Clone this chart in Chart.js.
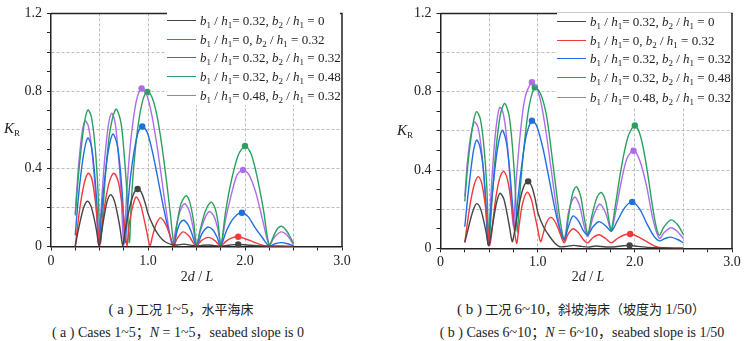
<!DOCTYPE html>
<html>
<head>
<meta charset="utf-8">
<script src="https://cdn.jsdelivr.net/npm/chart.js@4/dist/chart.umd.min.js"></script>
<style>
  html, body { margin: 0; padding: 0; background: #fff; }
  body { width: 747px; height: 341px; position: relative; overflow: hidden;
         font-family: "Liberation Serif", "Times New Roman", "Noto Sans CJK SC", serif; color: #222; }
  canvas { position: absolute; top: 0; }
  .legend { position: absolute; background: #fff; font-size: 13px; }
  .row { position: absolute; left: 0; height: 19px; line-height: 19px; white-space: nowrap; }
  .swatch { position: absolute; top: 9px; left: 0; width: 29px; border-top: 1.5px solid; }
  .lbl { position: absolute; left: 33px; top: 0; }
  sub { font-size: 9px; vertical-align: -3px; line-height: 0; }
  .txt { position: absolute; white-space: nowrap; transform: translate(-50%, -50%); }
  .lat { font-size: 15px; }
</style>
</head>
<body>
<canvas id="chartA" width="373" height="290" style="left:0"></canvas>
<canvas id="chartB" width="374" height="290" style="left:373px"></canvas>

<div class="txt" style="left:12px;top:128px;font-size:15px"><i>K</i><sub>R</sub></div>
<div class="txt" style="left:405px;top:130px;font-size:15px"><i>K</i><sub>R</sub></div>
<div class="txt" style="left:197px;top:277px;font-size:14px">2<i>d</i> / <i>L</i></div>
<div class="txt" style="left:588px;top:277px;font-size:14px">2<i>d</i> / <i>L</i></div>
<div class="txt" style="left:181px;top:308px;font-size:13px"><span class="lat">( a )</span> 工况 <span class="lat">1~5</span>，水平海床</div>
<div class="txt" style="left:178px;top:331px;font-size:14px">( a ) Cases 1~5；<i>N</i> = 1~5，seabed slope is 0</div>
<div class="txt" style="left:581px;top:308px;font-size:13px"><span class="lat">( b )</span> 工况 <span class="lat">6~10</span>，斜坡海床（坡度为 <span class="lat">1/50</span>）</div>
<div class="txt" style="left:582px;top:331px;font-size:14px">( b ) Cases 6~10；<i>N</i> = 6~10，seabed slope is 1/50</div>

<div class="legend" id="legendA" style="left:167px;top:12px;width:173px;height:93px"></div>
<div class="legend" id="legendB" style="left:557px;top:13px;width:174px;height:94px"></div>

<script>
// Series labels (b1/h1, b2/h1 combinations) and line colours
const seriesLabels = [
  'b1 / h1= 0.32, b2 / h1 = 0',
  'b1 / h1= 0, b2 / h1 = 0.32',
  'b1 / h1= 0.32, b2 / h1 = 0.32',
  'b1 / h1= 0.32, b2 / h1 = 0.48',
  'b1 / h1= 0.48, b2 / h1 = 0.32'
];
const seriesColors = ['#444444', '#f03a3a', '#1f6fe0', '#2aa05e', '#ad6cec'];

// Axis tick labels
const xTickLabels = ['0', '1.0', '2.0', '3.0'];
const yTickLabels = ['0', '0.4', '0.8', '1.2'];

// ---- (a) cases 1-5, flat seabed: [2d/L, KR]
const flatB032B20 = [[0.25,0.0],[0.28,0.08],[0.31,0.15],[0.34,0.205],[0.375,0.233],[0.41,0.21],[0.44,0.155],[0.47,0.08],[0.495,0.005],[0.52,0.07],[0.55,0.16],[0.58,0.235],[0.613,0.266],[0.65,0.24],[0.68,0.18],[0.71,0.1],[0.74,0.005],[0.76,0.07],[0.79,0.15],[0.82,0.22],[0.855,0.275],[0.893,0.296],[0.93,0.28],[0.97,0.225],[1.0,0.17],[1.05,0.11],[1.1,0.065],[1.15,0.035],[1.2,0.018],[1.25,0.009],[1.3,0.008],[1.37,0.012],[1.44,0.007],[1.5,0.002],[1.56,0.006],[1.63,0.008],[1.7,0.004],[1.76,0.002],[1.85,0.008],[1.93,0.011],[2.02,0.008],[2.12,0.004],[2.25,0.001],[2.37,0.002],[2.5,0.0]];
const flatB10B232 = [[0.25,0.0],[0.28,0.13],[0.31,0.24],[0.35,0.34],[0.387,0.377],[0.42,0.35],[0.45,0.26],[0.475,0.15],[0.5,0.005],[0.53,0.12],[0.56,0.23],[0.6,0.33],[0.647,0.377],[0.69,0.34],[0.72,0.26],[0.75,0.15],[0.783,0.005],[0.8,0.09],[0.83,0.18],[0.876,0.255],[0.92,0.22],[0.96,0.14],[0.99,0.07],[1.02,0.005],[1.05,0.06],[1.08,0.11],[1.126,0.147],[1.17,0.125],[1.21,0.08],[1.24,0.035],[1.263,0.003],[1.3,0.04],[1.36,0.075],[1.42,0.055],[1.496,0.002],[1.55,0.03],[1.625,0.047],[1.69,0.03],[1.75,0.002],[1.8,0.025],[1.86,0.043],[1.93,0.05],[2.0,0.04],[2.08,0.025],[2.16,0.01],[2.25,0.001],[2.35,0.002],[2.5,0.0]];
const flatB032B232 = [[0.25,0.058],[0.28,0.24],[0.31,0.38],[0.345,0.5],[0.38,0.559],[0.415,0.52],[0.445,0.4],[0.47,0.24],[0.495,0.01],[0.52,0.17],[0.55,0.33],[0.59,0.49],[0.637,0.579],[0.68,0.53],[0.71,0.42],[0.74,0.23],[0.763,0.02],[0.79,0.2],[0.82,0.36],[0.86,0.5],[0.9,0.59],[0.941,0.618],[0.99,0.59],[1.04,0.5],[1.09,0.38],[1.14,0.25],[1.19,0.13],[1.23,0.05],[1.263,0.003],[1.3,0.08],[1.33,0.12],[1.365,0.135],[1.41,0.115],[1.45,0.07],[1.5,0.002],[1.55,0.06],[1.59,0.09],[1.625,0.1],[1.67,0.085],[1.71,0.05],[1.75,0.002],[1.8,0.07],[1.86,0.13],[1.92,0.165],[1.968,0.174],[2.03,0.155],[2.1,0.1],[2.18,0.045],[2.25,0.002],[2.31,0.014],[2.37,0.02],[2.44,0.014],[2.5,0.004]];
const flatB032B248 = [[0.25,0.16],[0.28,0.35],[0.31,0.5],[0.345,0.64],[0.38,0.703],[0.415,0.67],[0.45,0.54],[0.48,0.33],[0.51,0.02],[0.54,0.22],[0.57,0.42],[0.61,0.6],[0.671,0.707],[0.72,0.64],[0.75,0.5],[0.78,0.3],[0.807,0.02],[0.83,0.25],[0.86,0.45],[0.9,0.63],[0.95,0.76],[0.993,0.796],[1.04,0.77],[1.09,0.68],[1.14,0.53],[1.19,0.34],[1.23,0.17],[1.27,0.008],[1.3,0.12],[1.34,0.22],[1.393,0.262],[1.43,0.23],[1.47,0.13],[1.5,0.008],[1.54,0.09],[1.59,0.18],[1.65,0.228],[1.69,0.2],[1.72,0.13],[1.752,0.008],[1.8,0.18],[1.86,0.34],[1.93,0.47],[2.0,0.517],[2.06,0.48],[2.12,0.37],[2.19,0.19],[2.25,0.008],[2.3,0.06],[2.34,0.095],[2.38,0.104],[2.43,0.08],[2.47,0.045],[2.5,0.016]];
const flatB048B232 = [[0.25,0.17],[0.275,0.36],[0.3,0.5],[0.325,0.6],[0.352,0.647],[0.385,0.62],[0.42,0.5],[0.455,0.3],[0.49,0.01],[0.52,0.22],[0.55,0.43],[0.59,0.62],[0.626,0.686],[0.66,0.64],[0.69,0.5],[0.72,0.3],[0.75,0.01],[0.78,0.27],[0.81,0.48],[0.85,0.66],[0.89,0.77],[0.934,0.813],[0.98,0.79],[1.03,0.7],[1.08,0.56],[1.13,0.39],[1.18,0.21],[1.25,0.008],[1.29,0.1],[1.33,0.18],[1.376,0.22],[1.42,0.19],[1.46,0.11],[1.5,0.008],[1.54,0.08],[1.59,0.15],[1.632,0.18],[1.68,0.155],[1.72,0.09],[1.752,0.008],[1.8,0.14],[1.86,0.27],[1.92,0.37],[1.98,0.394],[2.04,0.37],[2.11,0.28],[2.18,0.14],[2.25,0.008],[2.3,0.045],[2.37,0.075],[2.43,0.06],[2.5,0.01]];

// Marked resonance peaks, (a)
const flatPeaksB032B20 = [[0.893,0.296],[1.93,0.011]];
const flatPeaksB10B232 = [[1.93,0.05]];
const flatPeaksB032B232 = [[0.941,0.618],[1.968,0.174]];
const flatPeaksB032B248 = [[0.993,0.796],[2.0,0.517]];
const flatPeaksB048B232 = [[0.934,0.813],[1.98,0.394]];

// ---- (b) cases 6-10, sloping seabed 1/50: [2d/L, KR]
const slopeB032B20 = [[0.25,0.03],[0.28,0.09],[0.31,0.15],[0.34,0.2],[0.372,0.228],[0.41,0.205],[0.44,0.15],[0.47,0.08],[0.495,0.013],[0.52,0.07],[0.55,0.16],[0.58,0.24],[0.612,0.281],[0.65,0.255],[0.68,0.19],[0.71,0.11],[0.738,0.034],[0.76,0.08],[0.79,0.17],[0.83,0.27],[0.865,0.325],[0.902,0.342],[0.94,0.315],[0.975,0.25],[1.005,0.178],[1.06,0.11],[1.125,0.059],[1.18,0.025],[1.228,0.008],[1.3,0.01],[1.37,0.015],[1.45,0.01],[1.52,0.006],[1.6,0.012],[1.7,0.007],[1.8,0.008],[1.88,0.013],[1.946,0.015],[2.03,0.01],[2.15,0.004],[2.3,0.002],[2.5,0.0]];
const slopeB10B232 = [[0.25,0.03],[0.28,0.14],[0.31,0.24],[0.35,0.33],[0.388,0.366],[0.42,0.34],[0.45,0.26],[0.48,0.14],[0.508,0.015],[0.54,0.14],[0.57,0.26],[0.61,0.36],[0.65,0.393],[0.69,0.35],[0.72,0.26],[0.75,0.14],[0.783,0.025],[0.81,0.12],[0.845,0.23],[0.893,0.287],[0.935,0.25],[0.97,0.17],[1.0,0.1],[1.03,0.034],[1.06,0.08],[1.09,0.13],[1.135,0.158],[1.18,0.135],[1.22,0.09],[1.272,0.028],[1.31,0.07],[1.363,0.1],[1.42,0.08],[1.47,0.045],[1.515,0.028],[1.57,0.055],[1.63,0.069],[1.7,0.05],[1.757,0.028],[1.82,0.05],[1.89,0.068],[1.952,0.073],[2.03,0.06],[2.12,0.035],[2.2,0.012],[2.25,0.005],[2.35,0.002],[2.5,0.0]];
const slopeB032B232 = [[0.25,0.11],[0.28,0.26],[0.31,0.39],[0.34,0.5],[0.372,0.553],[0.405,0.52],[0.44,0.41],[0.465,0.25],[0.49,0.02],[0.515,0.18],[0.55,0.36],[0.59,0.52],[0.635,0.603],[0.675,0.55],[0.71,0.41],[0.74,0.23],[0.765,0.09],[0.79,0.22],[0.83,0.4],[0.88,0.57],[0.941,0.652],[0.99,0.625],[1.05,0.52],[1.1,0.4],[1.15,0.27],[1.2,0.15],[1.245,0.07],[1.276,0.045],[1.31,0.1],[1.363,0.165],[1.42,0.14],[1.47,0.09],[1.515,0.068],[1.57,0.11],[1.63,0.136],[1.7,0.115],[1.757,0.087],[1.82,0.14],[1.9,0.21],[1.973,0.237],[2.05,0.2],[2.13,0.12],[2.2,0.06],[2.253,0.038],[2.31,0.05],[2.37,0.057],[2.44,0.045],[2.5,0.028]];
const slopeB032B248 = [[0.25,0.24],[0.28,0.42],[0.31,0.55],[0.34,0.65],[0.372,0.698],[0.41,0.66],[0.445,0.53],[0.475,0.33],[0.5,0.03],[0.53,0.25],[0.57,0.5],[0.615,0.68],[0.66,0.74],[0.705,0.68],[0.74,0.52],[0.77,0.3],[0.79,0.08],[0.82,0.3],[0.86,0.52],[0.91,0.72],[0.971,0.822],[1.03,0.79],[1.09,0.68],[1.14,0.5],[1.19,0.3],[1.235,0.13],[1.276,0.04],[1.32,0.17],[1.36,0.28],[1.397,0.315],[1.44,0.27],[1.485,0.14],[1.517,0.075],[1.56,0.17],[1.61,0.26],[1.654,0.285],[1.7,0.24],[1.735,0.14],[1.757,0.09],[1.8,0.22],[1.86,0.41],[1.93,0.57],[2.0,0.627],[2.06,0.57],[2.12,0.42],[2.18,0.22],[2.22,0.11],[2.253,0.066],[2.3,0.11],[2.373,0.145],[2.44,0.12],[2.5,0.07]];
const slopeB048B232 = [[0.25,0.265],[0.275,0.43],[0.3,0.54],[0.325,0.61],[0.35,0.645],[0.385,0.62],[0.42,0.51],[0.455,0.31],[0.49,0.02],[0.52,0.28],[0.55,0.5],[0.58,0.65],[0.61,0.72],[0.645,0.69],[0.68,0.57],[0.715,0.36],[0.748,0.115],[0.78,0.35],[0.82,0.58],[0.87,0.77],[0.941,0.848],[0.99,0.82],[1.04,0.73],[1.09,0.58],[1.14,0.4],[1.19,0.22],[1.235,0.09],[1.276,0.05],[1.32,0.19],[1.38,0.262],[1.43,0.22],[1.48,0.11],[1.517,0.06],[1.57,0.16],[1.637,0.225],[1.7,0.18],[1.757,0.09],[1.8,0.18],[1.86,0.34],[1.92,0.46],[1.986,0.498],[2.05,0.45],[2.12,0.32],[2.19,0.14],[2.253,0.05],[2.3,0.08],[2.373,0.105],[2.44,0.085],[2.5,0.05]];

// Marked resonance peaks, (b)
const slopePeaksB032B20 = [[0.902,0.342],[1.946,0.015]];
const slopePeaksB10B232 = [[1.952,0.073]];
const slopePeaksB032B232 = [[0.941,0.652],[1.973,0.237]];
const slopePeaksB032B248 = [[0.971,0.822],[2.0,0.627]];
const slopePeaksB048B232 = [[0.941,0.848],[1.986,0.498]];

const FONT = "'Liberation Serif', 'Times New Roman', serif";
const AXIS = '#222';
const GRID = '#bdbdbd';

const toXY = pts => pts.map(p => ({ x: p[0], y: p[1] }));
const near = (v, step) => Math.abs(v / step - Math.round(v / step)) < 1e-6;

// frame on the top and right edges of the plot area
const framePlugin = {
  id: 'frame',
  afterDraw(chart) {
    const { ctx, chartArea: a } = chart;
    ctx.save();
    ctx.strokeStyle = AXIS;
    ctx.lineWidth = 1.5;
    ctx.beginPath();
    ctx.moveTo(a.left, a.top);
    ctx.lineTo(a.right, a.top);
    ctx.lineTo(a.right, a.bottom);
    ctx.stroke();
    ctx.restore();
  }
};

function buildPanel(canvasId, curves, peaks, padding) {
  const datasets = [];
  curves.forEach((pts, i) => {
    datasets.push({
      label: seriesLabels[i], data: toXY(pts),
      borderColor: seriesColors[i], backgroundColor: seriesColors[i],
      borderWidth: 1.4, pointRadius: 0, tension: 0.3, fill: false
    });
  });
  peaks.forEach((pts, i) => {
    datasets.push({
      label: '', data: toXY(pts), showLine: false, clip: false,
      borderColor: seriesColors[i], backgroundColor: seriesColors[i],
      pointRadius: 3.2, pointBorderWidth: 0
    });
  });

  return new Chart(document.getElementById(canvasId), {
    type: 'line',
    data: { datasets },
    options: {
      responsive: false, animation: false, devicePixelRatio: 1,
      layout: { padding },
      plugins: { legend: { display: false }, tooltip: { enabled: false } },
      scales: {
        x: {
          type: 'linear', min: 0, max: 3,
          afterFit: s => { s.height = 22; },
          ticks: {
            stepSize: 0.25, autoSkip: false, maxRotation: 0, padding: 2,
            color: AXIS, font: { family: FONT, size: 14 },
            callback: v => near(v, 1) ? xTickLabels[Math.round(v)] : ''
          },
          grid: {
            color: c => (near(c.tick.value, 0.5) && c.tick.value > 0.01 && c.tick.value < 2.99) ? GRID : 'rgba(0,0,0,0)',
            lineWidth: 1, tickColor: AXIS, tickLength: 4, tickWidth: 1
          },
          border: { display: true, color: AXIS, width: 1.5, dash: [3, 2] }
        },
        y: {
          type: 'linear', min: 0, max: 1.2,
          afterFit: s => { s.width = 46; },
          ticks: {
            stepSize: 0.1, autoSkip: false, padding: 5,
            color: AXIS, font: { family: FONT, size: 14 },
            callback: v => near(v, 0.4) ? yTickLabels[Math.round(v / 0.4)] : ''
          },
          grid: {
            color: c => (near(c.tick.value, 0.2) && c.tick.value > 0.01 && c.tick.value < 1.19) ? GRID : 'rgba(0,0,0,0)',
            lineWidth: 1, tickColor: AXIS, tickLength: 4, tickWidth: 1
          },
          border: { display: true, color: AXIS, width: 1.5, dash: [3, 2] }
        }
      }
    },
    plugins: [framePlugin]
  });
}

function buildLegend(id, rowTops) {
  const box = document.getElementById(id);
  seriesLabels.forEach((lab, i) => {
    const row = document.createElement('div');
    row.className = 'row';
    row.style.top = rowTops[i] + 'px';
    const sw = document.createElement('span');
    sw.className = 'swatch';
    sw.style.borderTopColor = seriesColors[i];
    const txt = document.createElement('span');
    txt.className = 'lbl';
    txt.innerHTML = lab.replace(/([bh])(\d)/g, '<i>$1</i><sub>$2</sub>');
    row.appendChild(sw);
    row.appendChild(txt);
    box.appendChild(row);
  });
}

buildPanel('chartA',
  [flatB032B20, flatB10B232, flatB032B232, flatB032B248, flatB048B232],
  [flatPeaksB032B20, flatPeaksB10B232, flatPeaksB032B232, flatPeaksB032B248, flatPeaksB048B232],
  { left: 5, right: 31, top: 11.5, bottom: 21.5 });

buildPanel('chartB',
  [slopeB032B20, slopeB10B232, slopeB032B232, slopeB032B248, slopeB048B232],
  [slopePeaksB032B20, slopePeaksB10B232, slopePeaksB032B232, slopePeaksB032B248, slopePeaksB048B232],
  { left: 21.5, right: 15, top: 12.5, bottom: 19.7 });

buildLegend('legendA', [-1.5, 17.5, 36, 55, 74]);
buildLegend('legendB', [-1.5, 17.5, 36, 54.5, 74.5]);
</script>
</body>
</html>
